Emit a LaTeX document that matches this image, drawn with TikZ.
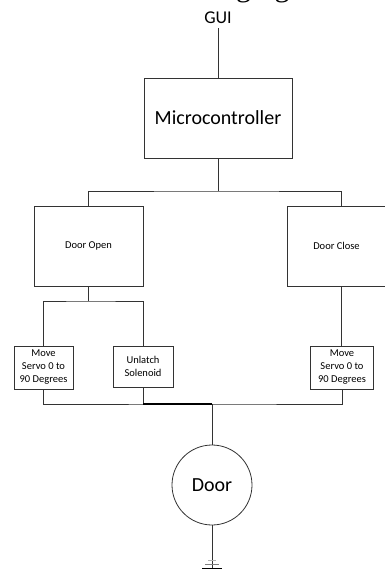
\documentclass[tikz,border=0pt]{standalone}
\usepackage{fontspec}
\setmainfont{Carlito}
\newfontfamily\capfont{Liberation Serif}
\begin{document}
\begin{tikzpicture}[x=1pt,y=-1pt,
  wire/.style={draw=black!80,line width=0.8pt},
  boxnode/.style={draw=black!80,line width=0.8pt,rectangle,inner sep=0pt,align=center},
  small/.style={font=\fontsize{10.5}{13}\selectfont}]
\useasboundingbox (0,0) rectangle (385,574);
% cut-off caption at the top
\node[anchor=base west,inner sep=0pt,font=\capfont\fontsize{30}{30}\selectfont] (cap) at (236,-4) {ging};
% nodes
\node[anchor=base,inner sep=0pt,font=\fontsize{18}{18}\selectfont] (gui) at (218,23) {GUI};
\coordinate (guiend) at (218,28);
\node[boxnode,minimum width=148pt,minimum height=80pt,font=\fontsize{20}{20}\selectfont] (mc) at (218,118) {Microcontroller};
\node[boxnode,small,minimum width=109pt,minimum height=80pt] (dopen) at (88.5,246) {Door Open};
\node[boxnode,small,minimum width=109pt,minimum height=80pt] (dclose) at (341.5,246) {Door Close\hspace*{10pt}};
\node[boxnode,small,minimum width=59pt,minimum height=43pt] (ms1) at (43.5,367.5) {Move\\Servo 0 to\\90 Degrees};
\node[boxnode,small,minimum width=60pt,minimum height=41pt] (unl) at (143,366.5) {Unlatch\\Solenoid};
\node[boxnode,small,minimum width=63pt,minimum height=43pt] (ms2) at (342,367.5) {Move\\Servo 0 to\\90 Degrees};
\node[draw=black!80,line width=0.8pt,circle,minimum size=80pt,inner sep=0pt,font=\fontsize{20}{20}\selectfont] (door) at (212,485) {Door};
% junction coordinates
\coordinate (b1) at (218,191);
\coordinate (b2) at (88.5,301);
\coordinate (b3) at (212,404);
\coordinate (gnd) at (212,568);
% connectors
\draw[wire] (guiend) -- (mc.north);
\draw[wire] (mc.south) -- (b1);
\draw[wire] (dopen.north) |- (b1) -| (dclose.north);
\draw[wire] (dopen.south) -- (b2);
\draw[wire] (ms1.north) |- (b2) -| (unl.north);
\draw[wire] (dclose.south) -- (dclose.south |- ms2.north);
\draw[wire] (ms1.south) |- (b3) -| (ms2.south);
\draw[wire] (unl.south) -- (unl.south |- b3);
\draw[draw=black,line width=1.3pt] (unl.south |- b3) -- (b3);
\draw[wire] (b3) -- (door.north);
\draw[wire] (door.south) -- (gnd);
% ground symbol
\draw[draw=black,line width=1pt] ([xshift=-10pt]gnd) -- ([xshift=10pt]gnd);
\draw[draw=black!50,line width=1pt] ([xshift=-7pt,yshift=4pt]gnd) -- ([xshift=7pt,yshift=4pt]gnd);
\draw[draw=black!30,line width=1pt] ([xshift=-4pt,yshift=8pt]gnd) -- ([xshift=4pt,yshift=8pt]gnd);
\end{tikzpicture}
\end{document}
